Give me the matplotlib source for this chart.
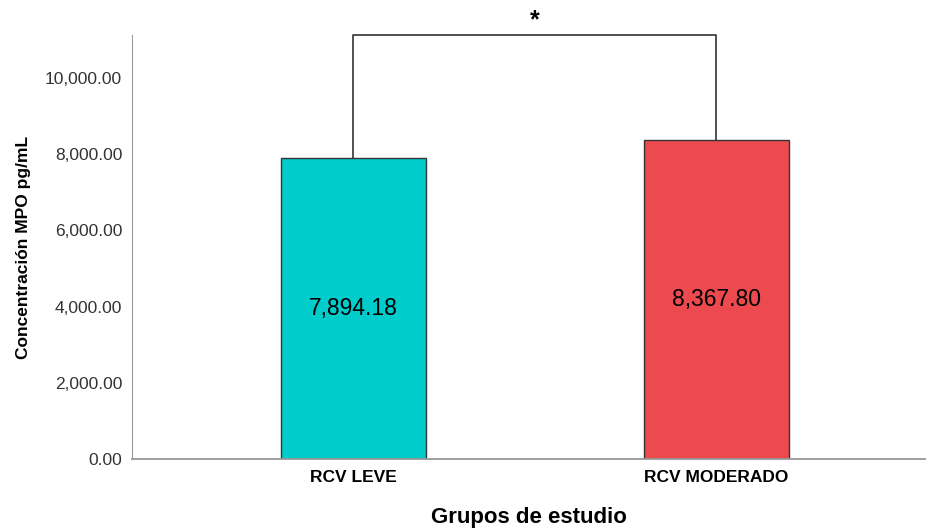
import matplotlib.pyplot as plt

grupos = ['RCV LEVE', 'RCV MODERADO']
medias = [7894.18, 8367.80]
etiquetas = ['7,894.18', '8,367.80']
colores = ['#00CCCC', '#EC4A4E']
yticks = [0, 2000, 4000, 6000, 8000, 10000]

plt.rcParams['font.family'] = ['Liberation Sans', 'DejaVu Sans']

fig = plt.figure(figsize=(9.26, 5.29), dpi=100)
ax = fig.add_axes([0.1425, 0.1323, 0.8575, 0.8015])

x = list(range(len(grupos)))
ax.bar(x, medias, width=0.4, color=colores, edgecolor='#333333', linewidth=1)

for xi, m, lab in zip(x, medias, etiquetas):
	ax.text(xi, m / 2, lab, ha='center', va='center', fontsize=16.5, color='black')

ytop = 11130
ax.set_ylim(0, ytop)
ax.set_xlim(-0.611, 1.579)

# bracket of significance
ax.plot([x[0], x[0], x[1], x[1]], [medias[0], ytop, ytop, medias[1]],
	color='#333333', linewidth=1.2, clip_on=False)
ax.text((x[0] + x[1]) / 2, ytop + 60, '*', ha='center', va='bottom',
	fontsize=18, fontweight='bold', clip_on=False)

ax.set_yticks(yticks)
ax.set_yticklabels(['{:,.2f}'.format(v) for v in yticks], fontsize=12.5, color='#333333')
ax.set_xticks(x)
ax.set_xticklabels(grupos, fontsize=12.5, fontweight='bold')
ax.tick_params(axis='y', length=0, pad=7)
ax.tick_params(axis='x', length=0, pad=8)

ax.spines['top'].set_visible(False)
ax.spines['right'].set_visible(False)
ax.spines['left'].set_color('#999999')
ax.spines['bottom'].set_color('#999999')
ax.spines['bottom'].set_linewidth(1.3)

ax.set_ylabel('Concentración MPO pg/mL', fontsize=12.5, fontweight='bold', labelpad=10)
ax.set_xlabel('Grupos de estudio', fontsize=16, fontweight='bold', labelpad=16)

fig.savefig('out.png', dpi=100)
